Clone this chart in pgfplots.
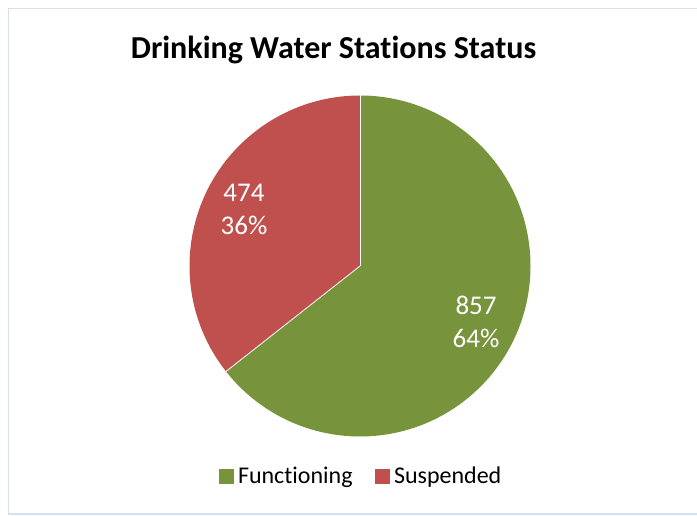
\documentclass[border=0pt]{standalone}
\usepackage{pgfplots}
\usepackage{pgfplotstable}
\usepackage{fontspec}
\usetikzlibrary{calc}
\setmainfont{Carlito}[Ligatures={NoCommon,NoRare}]
\pgfplotsset{compat=1.18}
\definecolor{pgreen}{HTML}{77933C}
\definecolor{pred}{HTML}{C0504D}
\definecolor{frame}{HTML}{D5E0EE}
\pgfplotstableread{
status value
Functioning 857
Suspended 474
}\piedata
\begin{document}
\begin{tikzpicture}
\pgfkeys{/pgf/number format/assume math mode=true}
\pgfplotstablegetelem{0}{value}\of\piedata \pgfmathsetmacro{\va}{\pgfplotsretval}
\pgfplotstablegetelem{1}{value}\of\piedata \pgfmathsetmacro{\vb}{\pgfplotsretval}
\pgfmathsetmacro{\tot}{\va+\vb}
\pgfmathsetmacro{\fa}{\va/\tot}
\pgfmathsetmacro{\anga}{360*\fa}
\pgfmathsetmacro{\pa}{round(100*\fa)}
\pgfmathsetmacro{\pb}{100-\pa}
\pgfmathsetmacro{\enda}{90-\anga}
\pgfmathsetmacro{\mida}{90-\anga/2}
\pgfmathsetmacro{\midb}{90-\anga-(360-\anga)/2}
\begin{axis}[
  scale only axis, width=697pt, height=515pt,
  xmin=0, xmax=697, ymin=0, ymax=515,
  axis lines=none, clip=false,
  /pgf/number format/assume math mode=true,
  legend style={at={(axis cs:361,39)}, anchor=center, draw=none, fill=none,
    legend columns=2, font=\fontsize{24}{28}\selectfont,
    /tikz/every odd column/.append style={column sep=3pt},
    /tikz/every even column/.append style={column sep=20pt}},
]
\draw[frame, line width=1.2pt] (axis cs:8.5,1) rectangle (axis cs:700,506.5);
\fill[pgreen] (axis cs:360,249) -- ++(90:170.5pt) arc[start angle=90, end angle=\enda, radius=170.5pt] -- cycle;
\fill[pred] (axis cs:360,249) -- ++(\enda:170.5pt) arc[start angle=\enda, end angle=-270, radius=170.5pt] -- cycle;
\draw[white, line width=0.8pt] (axis cs:360,249) -- ++(90:170.5pt);
\draw[white, line width=0.8pt] (axis cs:360,249) -- ++(\enda:170.5pt);
\node[white, align=center, font=\fontsize{27}{33}\selectfont] at ($(axis cs:360,249)+(\mida:129pt)$) {\pgfmathprintnumber[fixed,precision=0]{\va}\\\pgfmathprintnumber[fixed,precision=0]{\pa}\%};
\node[white, align=center, font=\fontsize{27}{33}\selectfont] at ($(axis cs:360,249)+(\midb:129pt)$) {\pgfmathprintnumber[fixed,precision=0]{\vb}\\\pgfmathprintnumber[fixed,precision=0]{\pb}\%};
\node[font=\bfseries\fontsize{32}{36}\selectfont] at (axis cs:333.5,465) {Drinking Water Stations Status};
\addlegendimage{legend image code/.code={\fill[pgreen] (0pt,-7pt) rectangle (14pt,7pt);}}
\addlegendentry{Functioning}
\addlegendimage{legend image code/.code={\fill[pred] (0pt,-7pt) rectangle (14pt,7pt);}}
\addlegendentry{Suspended}
\end{axis}
\pgfresetboundingbox
\useasboundingbox (0,0) rectangle (697pt,515pt);
\end{tikzpicture}
\end{document}
